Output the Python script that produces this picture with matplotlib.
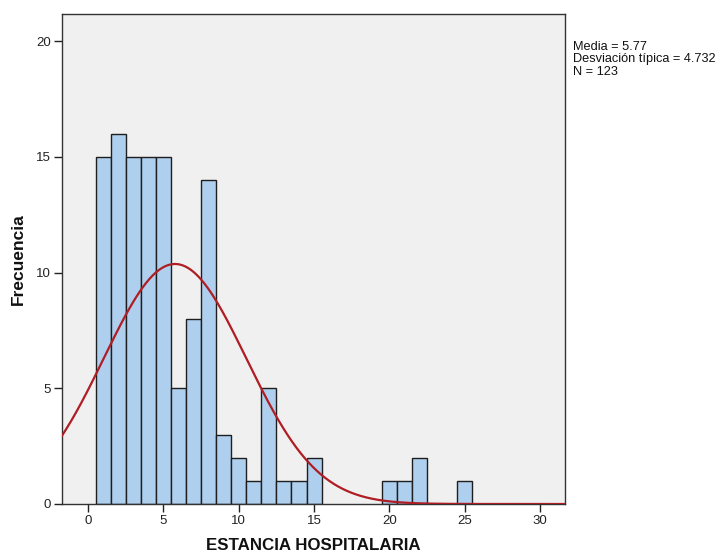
import numpy as np
import matplotlib
matplotlib.use("Agg")
import matplotlib.pyplot as plt

# Data
stay_days = [1, 2, 3, 4, 5, 6, 7, 8, 9, 10, 11, 12, 13, 14, 15, 20, 21, 22, 25]
frequency = [15, 16, 15, 15, 15, 5, 8, 14, 3, 2, 1, 5, 1, 1, 2, 1, 1, 2, 1]
mean_val = 5.77
sd_val = 4.732
n_val = 123
x_ticks = [0, 5, 10, 15, 20, 25, 30]
y_ticks = [0, 5, 10, 15, 20]

plt.rcParams['font.family'] = ['Liberation Sans', 'DejaVu Sans']

fig = plt.figure(figsize=(7.24, 5.56), dpi=100)
ax = fig.add_axes([62/724, 52/556, 503/724, 490/556])
ax.set_facecolor('#F0F0F0')

ax.bar(stay_days, frequency, width=1.0, color='#AFCFEE', edgecolor='#1E1E1E',
       linewidth=1.0, zorder=2)

xlim = (-1.73, 31.65)
xs = np.linspace(xlim[0], xlim[1], 600)
pdf = n_val * 1.0 / (sd_val * np.sqrt(2 * np.pi)) * np.exp(-0.5 * ((xs - mean_val) / sd_val) ** 2)
ax.plot(xs, pdf, color='#AE1E24', linewidth=1.6, zorder=3)

ax.set_xlim(*xlim)
ax.set_ylim(0, 21.17)
ax.set_xticks(x_ticks)
ax.set_yticks(y_ticks)
ax.tick_params(axis='both', direction='out', length=6, width=1.0, color='#222222',
               labelsize=9.5, labelcolor='#222222', pad=2)

for side in ['top', 'right', 'left', 'bottom']:
    ax.spines[side].set_color('#333333')
    ax.spines[side].set_linewidth(1.0)

ax.set_xlabel('ESTANCIA HOSPITALARIA', fontsize=12.2, fontweight='bold', labelpad=8, color='#111111')
ax.set_ylabel('Frecuencia', fontsize=12.5, fontweight='bold', labelpad=7, color='#111111')

fig.text(573/724, 1 - 41/556,
         'Media = %.2f\nDesviación típica = %.3f\nN = %d' % (mean_val, sd_val, n_val),
         fontsize=9.2, va='top', ha='left', linespacing=1.03, color='#111111')

fig.savefig('out.png', dpi=100)
